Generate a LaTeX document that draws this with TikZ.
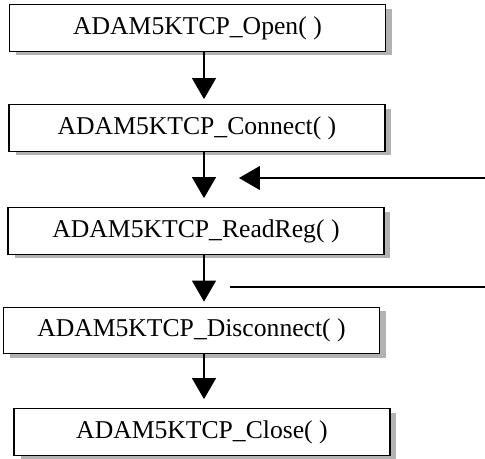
\documentclass[tikz,border=0pt]{standalone}
\usepackage{fontspec}
\setmainfont{Liberation Serif}
\usetikzlibrary{arrows.meta,shadows}

\begin{document}
\begin{tikzpicture}[
    x=0.02cm, y=-0.02cm,
    every node/.style={font=\fontsize{14.6}{17}\selectfont},
    fbox/.style={draw, line width=0.75pt, fill=white, minimum width=7.52cm, minimum height=0.93cm, inner sep=0pt,
        drop shadow={shadow xshift=0.13cm, shadow yshift=-0.08cm, fill=black!30, opacity=1}},
    flow/.style={-{Triangle[width=0.48cm, length=0.42cm]}, line width=0.6pt}
]
\useasboundingbox (0,0) rectangle (485,458);
\node[fbox] (open) at (197.5,28) {ADAM5KTCP\_Open( )};
\node[fbox] (connect) at (197,128) {ADAM5KTCP\_Connect( )};
\node[fbox] (readreg) at (196,231) {ADAM5KTCP\_ReadReg( )};
\node[fbox] (disconnect) at (191.5,330.5) {ADAM5KTCP\_Disconnect( )};
\node[fbox] (close) at (202,432) {ADAM5KTCP\_Close( )};
\coordinate (ax) at (204,0);
\coordinate (loopin) at (485,178);
\coordinate (loopend) at (239,178);
\coordinate (loopout) at (485,287);
\coordinate (loopstart) at (230,287);
\draw[flow, shorten >=0.1cm] (open.south -| ax) -- (connect.north -| ax);
\draw[flow, shorten >=0.18cm] (connect.south -| ax) -- (readreg.north -| ax);
\draw[flow, shorten >=0.1cm] (readreg.south -| ax) -- (disconnect.north -| ax);
\draw[flow, shorten >=0.18cm] (disconnect.south -| ax) -- (close.north -| ax);
\draw[flow] (loopin) -- (loopend);
\draw[line width=0.6pt] (loopstart) -- (loopout);
\end{tikzpicture}
\end{document}
